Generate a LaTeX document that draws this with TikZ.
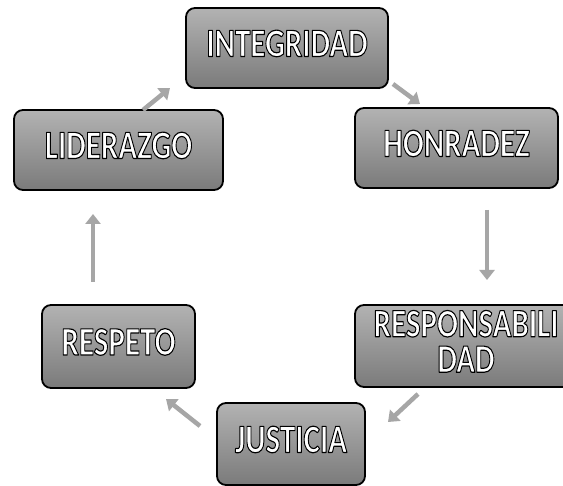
\documentclass[tikz,border=0pt]{standalone}
\usepackage{fontspec}
\setmainfont{Carlito}
\usetikzlibrary{arrows.meta}
\newcommand{\wl}[1]{\textcolor{white}{\special{pdf:literal direct 0 0 0 RG 0.9 w 1 j 2 Tr}#1\special{pdf:literal direct 0 Tr}}}
\newcommand{\boxtxt}[1]{\scalebox{1}[1.3]{\fontsize{31}{24}\selectfont\bfseries\begin{tabular}{@{}c@{}}#1\end{tabular}}}
\tikzset{
  valbox/.style={draw=black, line width=1.8pt, rounded corners=9pt,
    top color=black!30, bottom color=black!52, inner sep=0pt},
  flowarrow/.style={draw=black!35, line width=4.5pt,
    -{Triangle[width=15pt,length=10pt]}}
}
\begin{document}
\begin{tikzpicture}[x=1pt,y=-1pt]
\clip (0,0) rectangle (563,486);
\fill[white] (0,0) rectangle (563,486);
\node[valbox, minimum width=202pt, minimum height=80pt] (integ) at (287,48) {\boxtxt{\wl{INTEGRIDAD}}};
\node[valbox, minimum width=209pt, minimum height=80pt] (lider) at (118.5,150) {\boxtxt{\wl{LIDERAZGO}}};
\node[valbox, minimum width=203pt, minimum height=80pt] (honra) at (456.5,148) {\boxtxt{\wl{HONRADEZ}}};
\node[valbox, minimum width=153pt, minimum height=83pt] (respe) at (118.5,346.5) {\boxtxt{\wl{RESPETO}}};
\node[valbox, minimum width=222pt, minimum height=82pt] (respo) at (466,346) {\boxtxt{\wl{RESPONSABILI}\\\wl{DAD}}};
\node[valbox, minimum width=148pt, minimum height=82pt] (justi) at (291,444) {\boxtxt{\wl{JUSTICIA}}};
% arrow end points
\coordinate (a1s) at (143,110); \coordinate (a1e) at (170,88);
\coordinate (a2s) at (393,84);  \coordinate (a2e) at (420,104);
\coordinate (a3s) at (487,210); \coordinate (a3e) at (487,280);
\coordinate (a4s) at (93,282);  \coordinate (a4e) at (93,214);
\coordinate (a5s) at (418,394); \coordinate (a5e) at (388,422);
\coordinate (a6s) at (200,426); \coordinate (a6e) at (166,399);
\draw[flowarrow] (a1s) -- (a1e);
\draw[flowarrow] (a2s) -- (a2e);
\draw[flowarrow] (a3s) -- (a3e);
\draw[flowarrow] (a4s) -- (a4e);
\draw[flowarrow] (a5s) -- (a5e);
\draw[flowarrow] (a6s) -- (a6e);
\end{tikzpicture}
\end{document}
